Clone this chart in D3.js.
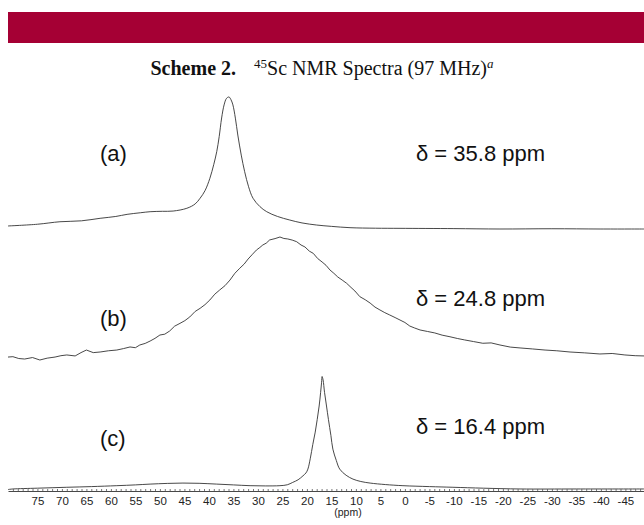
<!DOCTYPE html>
<html>
<head>
<meta charset="utf-8">
<script src="https://cdn.jsdelivr.net/npm/d3@7"></script>
<style>
  body { margin: 0; background: #fff; }
  svg { display: block; }
</style>
</head>
<body>
<svg id="chart" width="644" height="525"></svg>
<script>
// chemical shift (ppm) / relative intensity
var ppmA = [81, 75, 70.4, 66, 62.2, 59, 56.7, 54, 52, 49.5, 47.3, 44.5, 42.8, 41.8, 40.8, 39.8, 39, 38.4, 37.9, 37.4, 36.9, 36.4, 35.9, 35.5, 35.1, 34.6, 34.1, 33.4, 32.7, 31.9, 31, 29.6, 28.2, 26, 23.5, 21, 18, 15, 11.2, 6, 1, -10, -19.4, -30, -40, -48.8];
var intA = [2.3, 3.6, 5.5, 6.2, 8.1, 9.5, 11.1, 12.3, 13.1, 13.4, 13.6, 15.7, 19, 23.3, 29, 38.4, 49, 58.6, 70, 84.1, 94, 99, 100, 98, 94, 84, 71.2, 56, 43.4, 32, 23.3, 17, 13.1, 9.5, 6.8, 4.6, 3, 2, 1, 0.6, 0.5, 0.3, 0, 0.2, 0, 0];

var ppmB = [81, 80, 78.8, 77.6, 76, 74.5, 73, 71.4, 70.2, 69, 67.3, 66.1, 65, 63.6, 62.2, 60.5, 58.8, 57.4, 56.1, 55, 54.1, 53, 52, 51, 50, 49, 48, 47, 45.9, 44.9, 43.9, 42.8, 41.8, 40.8, 39.8, 38.8, 37.8, 36.7, 35.7, 34.7, 33.7, 32.8, 32, 31.1, 30.3, 29.6, 29, 28.3, 27.6, 26.5, 25.5, 24.7, 23.9, 23, 22.1, 21.2, 20.4, 19.5, 18.7, 17.8, 16.9, 16.1, 15.3, 14.5, 13.7, 12.8, 11.9, 11, 10.2, 9.2, 8.1, 7.1, 6.1, 5.1, 4.1, 3.1, 2, 1, 0, -1, -2, -3.1, -4.6, -6.1, -7.6, -9.2, -10.7, -12.2, -14, -15.9, -17.6, -19.4, -21.5, -23.5, -26, -28.6, -31, -33.7, -36.7, -39.8, -42.3, -44.9, -47, -48.8];
var intB = [2.4, 2.7, 1.2, 0.8, 2, 0, 1.5, 2.4, 3.5, 4.1, 3.3, 6, 8.1, 6, 6.5, 7.5, 8.1, 9.3, 10.6, 10, 12.2, 13.5, 15.4, 17.6, 20.3, 21, 23.6, 27.5, 29.8, 32, 35, 39.5, 42, 45, 48.8, 53.5, 56.9, 60.5, 65, 70.5, 74.6, 78, 82.1, 86, 89.4, 91.5, 93.5, 95, 97.6, 98.7, 100, 98.8, 98.4, 97.5, 96.2, 93.5, 91.9, 88.5, 86.7, 82.5, 79.7, 77, 73.2, 70.5, 67.5, 65, 62.4, 59, 56.1, 51.5, 49, 46.3, 43, 40.7, 38.5, 36.6, 34.5, 32.5, 30.5, 27.6, 26, 24.4, 23.2, 22, 20.2, 18.9, 17.5, 16.3, 15, 13.6, 13.9, 12.2, 10.5, 9.8, 9, 8.1, 7.5, 6.5, 5.8, 4.9, 5.3, 4.1, 3.5, 3.3];

var ppmC = [81, 80, 75, 69, 64, 58.8, 55, 52, 48.5, 45.3, 42, 38.4, 35, 31.6, 28.5, 25.5, 24, 22.9, 21.8, 20.8, 20.2, 19.8, 19.3, 18.8, 18.3, 17.9, 17.5, 17.2, 17, 16.9, 16.7, 16.4, 16, 15.6, 15.1, 14.7, 14, 13.3, 12, 10.6, 9, 7.1, 4, 0.4, -5, -9.8, -16, -23.5, -35, -48.8];
var intC = [0.4, 0.9, 1.6, 2.4, 3, 3.8, 4.5, 5.2, 5.8, 6.1, 5.9, 5.2, 4.5, 3.8, 3.6, 3.8, 4.6, 6.7, 9, 12.5, 15, 18.4, 28, 40, 51, 62, 74, 86, 95, 100, 97, 86, 74, 62, 48, 36, 26, 18.4, 13, 9.6, 7.5, 6.1, 4.8, 3.8, 3, 2.4, 1.6, 0.9, 0.9, 0.9];

var majorTicks = [75, 70, 65, 60, 55, 50, 45, 40, 35, 30, 25, 20, 15, 10, 5, 0, -5, -10, -15, -20, -25, -30, -35, -40, -45];
var panelNames = ["(a)", "(b)", "(c)"];
var shiftLabels = ["\u03b4 = 35.8 ppm", "\u03b4 = 24.8 ppm", "\u03b4 = 16.4 ppm"];

var svg = d3.select("#chart");
var sans = "'Liberation Sans', Arial, sans-serif";
var serif = "'Liberation Serif', 'Times New Roman', serif";

// header band
svg.append("rect").attr("x", 8).attr("y", 12).attr("width", 636).attr("height", 31).attr("fill", "#a50034");

var title = svg.append("text").attr("x", 322).attr("y", 75).attr("text-anchor", "middle")
  .attr("font-family", serif).attr("font-size", 20).attr("fill", "#111");
title.append("tspan").attr("font-weight", "bold").text("Scheme 2.");
title.append("tspan").attr("dx", 18).attr("font-size", 13).attr("dy", -7).text("45");
title.append("tspan").attr("dy", 7).text("Sc NMR Spectra (97 MHz)");
title.append("tspan").attr("font-size", 13).attr("font-style", "italic").attr("dy", -7).text("a");

var x = d3.scaleLinear().domain([81, -49]).range([8, 645]);

var panels = [
  { ppm: ppmA, val: intA, y: d3.scaleLinear().domain([0, 100]).range([229, 97]), ly: 161, dy: 161, curve: d3.curveCatmullRom.alpha(0.5) },
  { ppm: ppmB, val: intB, y: d3.scaleLinear().domain([0, 100]).range([360, 237]), ly: 326, dy: 306, curve: d3.curveLinear },
  { ppm: ppmC, val: intC, y: d3.scaleLinear().domain([0, 100]).range([490, 376.5]), ly: 446, dy: 434, curve: d3.curveCatmullRom.alpha(0.5) }
];

panels.forEach(function (p, i) {
  var pts = p.ppm.map(function (d, j) { return [d, p.val[j]]; });
  var line = d3.line()
    .x(function (d) { return x(d[0]); })
    .y(function (d) { return p.y(d[1]); })
    .curve(p.curve);
  svg.append("path").datum(pts).attr("d", line)
    .attr("fill", "none").attr("stroke", "#333").attr("stroke-width", 0.9);

  svg.append("text").attr("x", 100).attr("y", p.ly)
    .attr("font-family", sans).attr("font-size", 22).attr("fill", "#111").text(panelNames[i]);
  svg.append("text").attr("x", 416).attr("y", p.dy)
    .attr("font-family", sans).attr("font-size", 22).attr("fill", "#111").text(shiftLabels[i]);
});

// ppm axis
var axisY = 491;
var axis = svg.append("g").attr("class", "x axis").attr("transform", "translate(0," + axisY + ")");
axis.call(d3.axisBottom(x).tickValues(majorTicks).tickSize(0).tickPadding(6).tickFormat(function (d) { return d < 0 ? "-" + Math.abs(d) : d; }));
axis.select(".domain").attr("stroke", "#333").attr("stroke-width", 0.9);
axis.selectAll("text").attr("font-family", sans).attr("font-size", 11.5).attr("fill", "#222");

var minor = svg.append("g").attr("transform", "translate(0," + axisY + ")");
minor.call(d3.axisTop(x).tickValues(d3.range(80, -49, -1)).tickSize(2).tickFormat(""));
minor.select(".domain").remove();
minor.selectAll(".tick line").attr("stroke", "#555").attr("stroke-width", 0.8);

svg.append("text").attr("x", 348).attr("y", 516).attr("text-anchor", "middle")
  .attr("font-family", sans).attr("font-size", 10.5).attr("fill", "#222").text("(ppm)");
</script>
</body>
</html>
